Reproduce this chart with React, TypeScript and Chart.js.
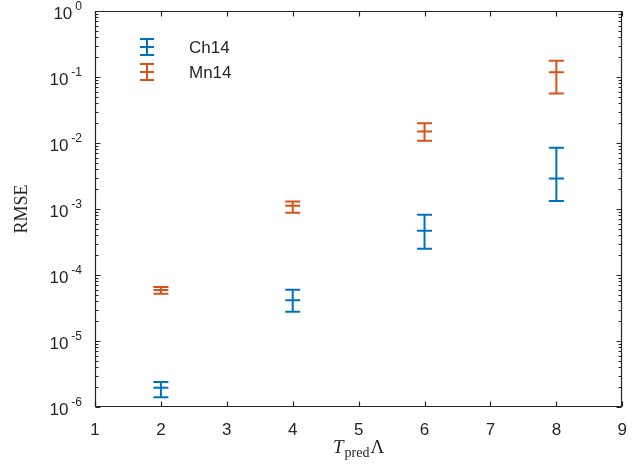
import React, { useEffect, useRef } from "react";
import { Chart, registerables } from "chart.js";

Chart.register(...registerables);

// ---- data ----
const xPositions = [2, 4, 6, 8];
const seriesLabels = ["Ch14", "Mn14"];
const seriesColors = ["#0072BD", "#D95319"];

const ch14Mean = [1.95e-6, 4.15e-5, 4.7e-4, 2.9e-3];
const ch14Low = [1.41e-6, 2.77e-5, 2.5e-4, 1.32e-3];
const ch14High = [2.4e-6, 6.0e-5, 8.2e-4, 8.5e-3];

const mn14Mean = [5.9e-5, 1.12e-3, 1.49e-2, 0.118];
const mn14Low = [5.2e-5, 8.8e-4, 1.08e-2, 0.056];
const mn14High = [6.6e-5, 1.3e-3, 2.0e-2, 0.177];

const xTicks = [1, 2, 3, 4, 5, 6, 7, 8, 9];
const yTickExponents = [-6, -5, -4, -3, -2, -1, 0];
const yAxisTitle = "RMSE";
const xAxisTitleMain = "T";
const xAxisTitleSub = "pred";
const xAxisTitleTail = "Λ";

const means = [ch14Mean, mn14Mean];
const lows = [ch14Low, mn14Low];
const highs = [ch14High, mn14High];

const AXIS_COLOR = "#262626";
const SANS = "'Liberation Sans', Arial, Helvetica, sans-serif";
const SERIF = "'Liberation Serif', 'Times New Roman', serif";
const CAP = 7.5;

const errorBarPlugin = {
  id: "errorBars",
  beforeDatasetsDraw(chart: any) {
    const { ctx } = chart;
    const xs = chart.scales.x;
    const ys = chart.scales.y;
    ctx.save();
    ctx.lineWidth = 2;
    ctx.lineCap = "butt";
    means.forEach((_m, si) => {
      ctx.strokeStyle = seriesColors[si];
      xPositions.forEach((xv, i) => {
        const px = xs.getPixelForValue(xv);
        const pLo = ys.getPixelForValue(lows[si][i]);
        const pHi = ys.getPixelForValue(highs[si][i]);
        ctx.beginPath();
        ctx.moveTo(px, pLo);
        ctx.lineTo(px, pHi);
        ctx.moveTo(px - CAP, pLo);
        ctx.lineTo(px + CAP, pLo);
        ctx.moveTo(px - CAP, pHi);
        ctx.lineTo(px + CAP, pHi);
        ctx.stroke();
      });
    });
    ctx.restore();
  },
};

const framePlugin = {
  id: "frame",
  afterDraw(chart: any) {
    const { ctx, chartArea } = chart;
    const xs = chart.scales.x;
    const ys = chart.scales.y;
    const L = Math.round(chartArea.left) + 0.5;
    const R = Math.round(chartArea.right) - 0.5;
    const T = Math.round(chartArea.top) + 0.5;
    const B = Math.round(chartArea.bottom) - 0.5;
    ctx.save();
    ctx.strokeStyle = AXIS_COLOR;
    ctx.lineWidth = 1.2;
    ctx.beginPath();
    ctx.rect(L, T, R - L, B - T);
    ctx.stroke();

    // x ticks (inward, top & bottom)
    ctx.beginPath();
    xTicks.forEach((v) => {
      const px = Math.round(xs.getPixelForValue(v)) + 0.5;
      ctx.moveTo(px, B);
      ctx.lineTo(px, B - 5);
      ctx.moveTo(px, T);
      ctx.lineTo(px, T + 5);
    });
    // y ticks, major + minor
    yTickExponents.forEach((e) => {
      const py = Math.round(ys.getPixelForValue(Math.pow(10, e))) + 0.5;
      ctx.moveTo(L, py);
      ctx.lineTo(L + 5, py);
      ctx.moveTo(R, py);
      ctx.lineTo(R - 5, py);
      if (e < 0) {
        for (let m = 2; m <= 9; m++) {
          const pm = Math.round(ys.getPixelForValue(m * Math.pow(10, e))) + 0.5;
          ctx.moveTo(L, pm);
          ctx.lineTo(L + 3, pm);
          ctx.moveTo(R, pm);
          ctx.lineTo(R - 3, pm);
        }
      }
    });
    ctx.stroke();

    // y tick labels 10^e
    ctx.fillStyle = AXIS_COLOR;
    yTickExponents.forEach((e) => {
      const py = ys.getPixelForValue(Math.pow(10, e));
      const expStr = String(e);
      ctx.font = `12px ${SANS}`;
      ctx.textAlign = "right";
      ctx.textBaseline = "alphabetic";
      const ew = ctx.measureText(expStr).width;
      const right = 82;
      ctx.fillText(expStr, right, py - 1);
      ctx.font = `17px ${SANS}`;
      ctx.textBaseline = "middle";
      ctx.fillText("10", right - ew - 3, py + 3);
    });

    // y title
    ctx.save();
    ctx.translate(22, (chartArea.top + chartArea.bottom) / 2);
    ctx.rotate(-Math.PI / 2);
    ctx.font = `18px ${SERIF}`;
    ctx.textAlign = "center";
    ctx.textBaseline = "middle";
    ctx.fillText(yAxisTitle, 0, 0);
    ctx.restore();

    // x title: T_pred Λ
    const mainFont = `italic 19px ${SERIF}`;
    const subFont = `14px ${SERIF}`;
    const tailFont = `19px ${SERIF}`;
    ctx.textAlign = "left";
    ctx.textBaseline = "alphabetic";
    ctx.font = mainFont;
    const w1 = ctx.measureText(xAxisTitleMain).width;
    ctx.font = subFont;
    const w2 = ctx.measureText(xAxisTitleSub).width;
    ctx.font = tailFont;
    const w3 = ctx.measureText(xAxisTitleTail).width;
    const total = w1 + 1 + w2 + 1 + w3;
    let cx = (chartArea.left + chartArea.right) / 2 - total / 2;
    const base = 453;
    ctx.font = mainFont;
    ctx.fillText(xAxisTitleMain, cx, base);
    cx += w1 + 1;
    ctx.font = subFont;
    ctx.fillText(xAxisTitleSub, cx, base + 4);
    cx += w2 + 1;
    ctx.font = tailFont;
    ctx.fillText(xAxisTitleTail, cx, base);

    // legend
    seriesLabels.forEach((lab, i) => {
      const cy = 47 + i * 25;
      const ix = 147;
      ctx.strokeStyle = seriesColors[i];
      ctx.lineWidth = 2;
      ctx.beginPath();
      ctx.moveTo(ix, cy - 8);
      ctx.lineTo(ix, cy + 8);
      ctx.moveTo(ix - 7, cy - 8);
      ctx.lineTo(ix + 7, cy - 8);
      ctx.moveTo(ix - 7, cy + 8);
      ctx.lineTo(ix + 7, cy + 8);
      ctx.moveTo(ix - 7, cy);
      ctx.lineTo(ix + 7, cy);
      ctx.stroke();
      ctx.fillStyle = AXIS_COLOR;
      ctx.font = `17px ${SANS}`;
      ctx.textAlign = "left";
      ctx.textBaseline = "middle";
      ctx.fillText(lab, 189, cy + 1);
    });
    ctx.restore();
  },
};

export default function App() {
  const canvasRef = useRef<HTMLCanvasElement | null>(null);

  useEffect(() => {
    const canvas = canvasRef.current;
    if (!canvas) return;
    const datasets = seriesLabels.map((label, si) => ({
      label,
      data: xPositions.map((x, i) => ({ x, y: means[si][i] })),
      showLine: false,
      pointStyle: "line" as const,
      pointRadius: CAP,
      pointHoverRadius: CAP,
      borderWidth: 2,
      borderColor: seriesColors[si],
      backgroundColor: seriesColors[si],
    }));
    const chart = new Chart(canvas, {
      type: "scatter",
      data: { datasets },
      options: {
        animation: false,
        responsive: false,
        maintainAspectRatio: false,
        layout: { padding: { left: 95, right: 16, top: 11, bottom: 0 } },
        plugins: {
          legend: { display: false },
          tooltip: { enabled: false },
        },
        scales: {
          x: {
            type: "linear",
            min: 1,
            max: 9,
            grid: { display: false, drawTicks: false },
            border: { display: false },
            ticks: {
              stepSize: 1,
              padding: 13,
              color: AXIS_COLOR,
              font: { family: SANS, size: 17 },
              maxRotation: 0,
            },
            afterFit: (scale: any) => {
              scale.height = 61;
            },
          },
          y: {
            type: "logarithmic",
            min: 1e-6,
            max: 1,
            display: false,
          },
        },
      },
      plugins: [errorBarPlugin, framePlugin],
    });
    return () => chart.destroy();
  }, []);

  return (
    <div style={{ position: "absolute", left: 0, top: 0, width: 640, height: 468, background: "#fff" }}>
      <canvas ref={canvasRef} width={640} height={468} style={{ display: "block" }} />
    </div>
  );
}
